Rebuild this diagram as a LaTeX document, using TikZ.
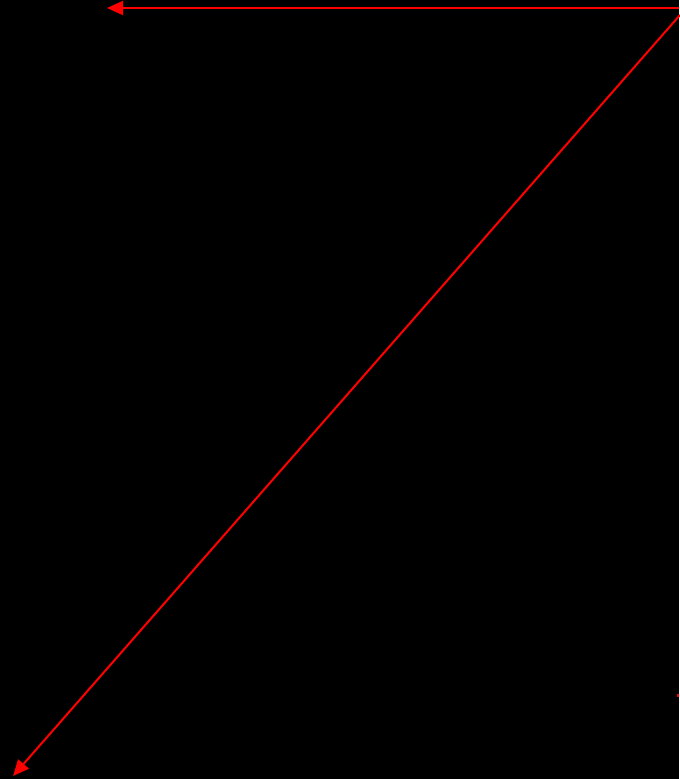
\documentclass[tikz,border=0pt]{standalone}
\usetikzlibrary{arrows.meta}
\begin{document}
\begin{tikzpicture}[x=0.75pt,y=-0.75pt,
  redarrow/.style={draw=red,line width=1.5pt,-{Triangle[length=12pt,width=10.5pt]}}]
\fill[black] (0,0) rectangle (679,779);
\useasboundingbox (0,0) rectangle (679,779);
\coordinate (a) at (679,8);
\coordinate (b) at (107,8);
\coordinate (c) at (680,15);
\coordinate (d) at (13,776);
\draw[redarrow] (a) -- (b);
\draw[redarrow] (c) -- (d);
\fill[red] (677,693.5) rectangle (679,697);
\end{tikzpicture}
\end{document}
